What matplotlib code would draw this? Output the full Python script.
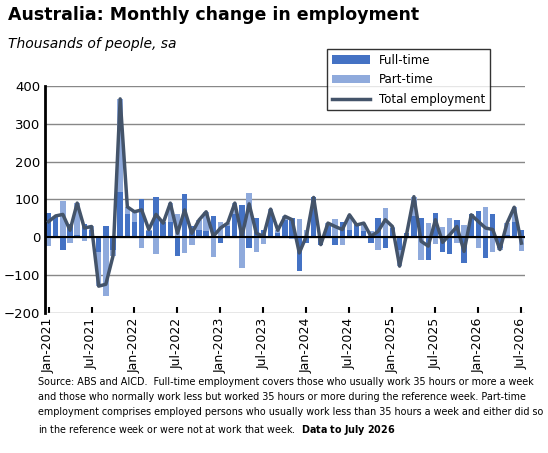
import matplotlib
matplotlib.use("Agg")
import matplotlib.pyplot as plt
import numpy as np
import pandas as pd

months = pd.date_range("2021-01-01", periods=67, freq="MS")
total = [41,56,60,18,90,24,28,-130,-125,-50,366,80,67,72,20,60,37,90,10,72,10,45,67,2,24,37,90,2,88,10,2,74,18,55,
         46,-42,3,105,-20,37,28,20,59,32,37,2,15,46,28,-77,10,107,-11,-24,46,-14,6,28,-38,59,41,24,20,-33,37,79,-16]
full_time = [65,55,-35,35,5,35,20,-40,30,-35,120,60,40,100,15,105,40,40,-50,115,30,20,15,55,-15,30,60,85,-30,50,20,60,10,45,
             50,-90,-15,105,-20,30,-20,40,20,35,15,-15,50,-30,25,-35,10,55,50,-60,65,-40,-45,45,-70,60,70,-55,60,-30,5,40,20]
part_time = [t - f for t, f in zip(total, full_time)]

ft = np.array(full_time, float); pt = np.array(part_time, float)
fig = plt.figure(figsize=(5.48, 4.53), dpi=100)
ax = fig.add_axes([0.082, 0.31, 0.876, 0.50])
x = np.arange(len(months))
b1 = ax.bar(x, ft, width=0.75, color="#4472C4", label="Full-time", zorder=2)
pt_bottom = np.where(np.sign(pt) == np.sign(ft), ft, 0)
b2 = ax.bar(x, pt, bottom=pt_bottom, width=0.75, color="#8FAADC", label="Part-time", zorder=2)
l1, = ax.plot(x, total, color="#44546A", lw=2.5, label="Total employment", zorder=3)
ax.axhline(0, color="black", lw=1.5, zorder=4)
ax.set_ylim(-200, 400)
ax.set_yticks(range(-200, 401, 100))
ax.grid(axis="y", color="#888888", lw=1, zorder=0)
ax.set_xlim(-0.5, len(x) - 0.5)
ticks = list(range(0, 67, 6))
ax.set_xticks(ticks)
ax.set_xticklabels([months[i].strftime("%b-%Y") for i in ticks], rotation=90, fontsize=9)
ax.tick_params(axis="y", labelsize=9.5, length=0)
ax.tick_params(axis="x", length=4, width=1.5, direction="in")
for s in ["top", "right", "bottom"]:
    ax.spines[s].set_visible(False)
ax.spines["left"].set_linewidth(2)
leg = fig.legend(handles=[b1, b2, l1], loc="upper right", bbox_to_anchor=(0.905, 0.905), fontsize=8.5,
                 frameon=True, fancybox=False, edgecolor="black", handlelength=3.2, borderpad=0.4,
                 labelspacing=0.55)
leg.get_frame().set_linewidth(1)
fig.text(0.015, 0.955, "Australia: Monthly change in employment", fontsize=12.5, fontweight="bold")
fig.text(0.015, 0.895, "Thousands of people, sa", fontsize=10, style="italic")
fig.text(0.07, 0.045,
         "Source: ABS and AICD.  Full-time employment covers those who usually work 35 hours or more a week\n"
         "and those who normally work less but worked 35 hours or more during the reference week. Part-time\n"
         "employment comprises employed persons who usually work less than 35 hours a week and either did so\n"
         "in the reference week or were not at work that week.  $\\bf{Data\\ to\\ July\\ 2026}$",
         fontsize=6.9, linespacing=1.6)
fig.savefig("out.png", dpi=100)
